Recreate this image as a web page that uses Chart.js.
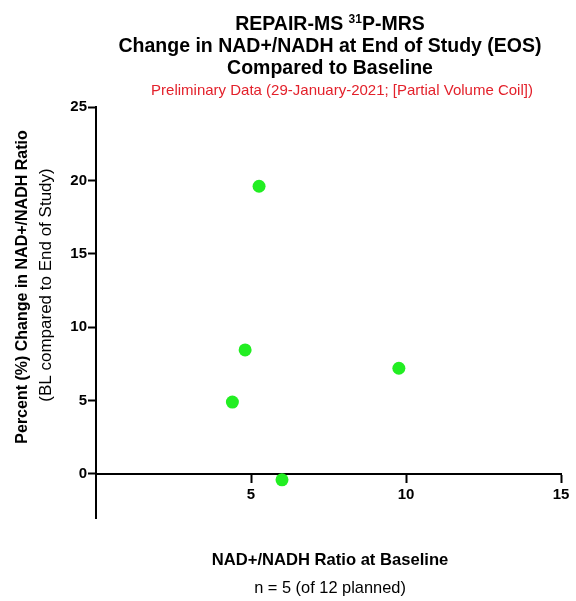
<!DOCTYPE html>
<html>
<head>
<meta charset="utf-8">
<script src="https://cdn.jsdelivr.net/npm/chart.js@4.4.0/dist/chart.umd.min.js"></script>
<style>
  body { margin: 0; background: #fff; }
  #wrap { width: 576px; height: 601px; position: relative; }
</style>
</head>
<body>
<div id="wrap"><canvas id="chartCanvas"></canvas></div>
<script>
const baselineRatio = [5.26, 4.81, 4.4, 9.77, 6.0];
const pctChange = [19.6, 8.45, 4.9, 7.2, -0.4];
const xTicks = [0, 5, 10, 15];
const yTicks = [0, 5, 10, 15, 20, 25];

const titleLines = ["Change in NAD+/NADH at End of Study (EOS)", "Compared to Baseline"];
const subtitle = "Preliminary Data (29-January-2021; [Partial Volume Coil])";
const yTitle = ["Percent (%) Change in NAD+/NADH Ratio", "(BL compared to End of Study)"];
const xTitle = "NAD+/NADH Ratio at Baseline";
const footNote = "n = 5 (of 12 planned)";

const FONT = "'Liberation Sans', Arial, Helvetica, sans-serif";

// titles and axis captions drawn by hand so they sit where the original has them
const textPlugin = {
  id: "textBlocks",
  afterDraw(chart) {
    const ctx = chart.ctx;
    const cx = 330;
    ctx.save();
    ctx.fillStyle = "#000";
    ctx.textBaseline = "alphabetic";

    // first line with superscript 31
    ctx.font = "bold 19.5px " + FONT;
    const a = "REPAIR-MS ";
    const b = "P-MRS";
    const wa = ctx.measureText(a).width;
    const wb = ctx.measureText(b).width;
    ctx.font = "bold 12px " + FONT;
    const ws = ctx.measureText("31").width;
    let x = cx - (wa + ws + wb) / 2;
    ctx.textAlign = "left";
    ctx.font = "bold 19.5px " + FONT;
    ctx.fillText(a, x, 30);
    ctx.font = "bold 12px " + FONT;
    ctx.fillText("31", x + wa, 23);
    ctx.font = "bold 19.5px " + FONT;
    ctx.fillText(b, x + wa + ws, 30);

    ctx.textAlign = "center";
    ctx.fillText(titleLines[0], cx, 52);
    ctx.fillText(titleLines[1], cx, 74);

    ctx.fillStyle = "#e3212b";
    ctx.font = "15px " + FONT;
    ctx.fillText(subtitle, 342, 95);

    // y axis caption
    ctx.fillStyle = "#000";
    ctx.textBaseline = "middle";
    ctx.save();
    ctx.translate(23, 287);
    ctx.rotate(-Math.PI / 2);
    ctx.font = "bold 16px " + FONT;
    ctx.fillText(yTitle[0], 0, 0);
    ctx.restore();
    ctx.save();
    ctx.translate(46, 285);
    ctx.rotate(-Math.PI / 2);
    ctx.font = "17px " + FONT;
    ctx.fillText(yTitle[1], 0, 0);
    ctx.restore();

    // x axis caption
    ctx.font = "bold 16.6px " + FONT;
    ctx.fillText(xTitle, cx, 560);
    ctx.font = "16.4px " + FONT;
    ctx.fillText(footNote, cx, 588);
    ctx.restore();
  },
};

const ctx1 = document.getElementById("chartCanvas").getContext("2d");

const chart1 = new Chart(ctx1, {
  type: "scatter",
  data: {
    datasets: [
      {
        label: "NAD+/NADH",
        data: baselineRatio.map((v, i) => ({ x: v, y: pctChange[i] })),
        backgroundColor: "#22ee22",
        borderWidth: 0,
        pointRadius: 6.5,
      },
    ],
  },
  options: {
    responsive: true,
    maintainAspectRatio: false,
    animation: false,
    layout: {
      padding: { left: 60, top: 107, right: 15, bottom: 83 },
    },
    plugins: {
      legend: { display: false },
      tooltip: { enabled: false },
    },
    scales: {
      x: {
        type: "linear",
        position: { y: 0 },
        min: 0,
        max: 15,
        afterBuildTicks: (s) => {
          s.ticks = xTicks.map((v) => ({ value: v }));
        },
        ticks: {
          color: "#000",
          font: { family: FONT, size: 15, weight: "bold" },
          padding: 4,
          maxRotation: 0,
          callback: (v) => (v === 0 ? "" : v),
        },
        grid: {
          drawOnChartArea: false,
          drawTicks: true,
          tickLength: 8,
          tickWidth: 2,
          color: (c) => (c.tick && c.tick.value === 0 ? "rgba(0,0,0,0)" : "#000"),
        },
        border: { display: true, color: "#000", width: 2 },
      },
      y: {
        type: "linear",
        min: -3,
        max: 25,
        afterBuildTicks: (s) => {
          s.ticks = yTicks.map((v) => ({ value: v }));
        },
        afterFit: (s) => {
          s.width = 36;
        },
        ticks: {
          color: "#000",
          font: { family: FONT, size: 15, weight: "bold" },
          padding: 1,
        },
        grid: {
          drawOnChartArea: false,
          drawTicks: true,
          tickLength: 8,
          tickWidth: 2,
          color: "#000",
        },
        border: { display: true, color: "#000", width: 2 },
      },
    },
  },
  plugins: [textPlugin],
});
</script>
</body>
</html>
